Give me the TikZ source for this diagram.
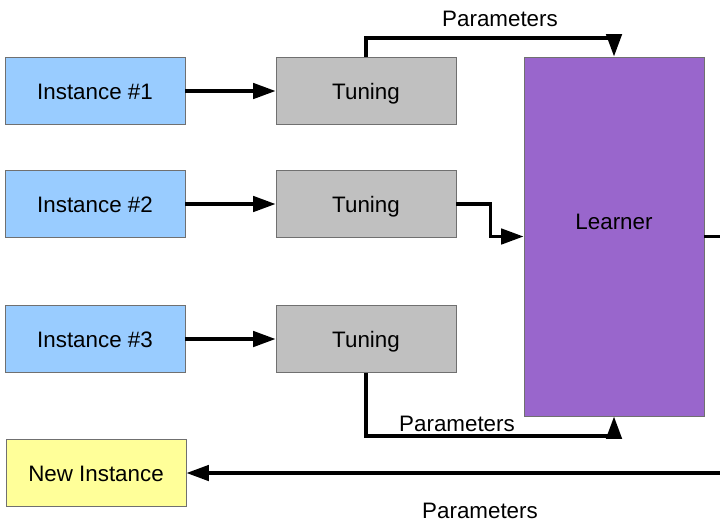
\documentclass[tikz,border=0pt]{standalone}
\usepackage{fontspec}
\setmainfont{Liberation Sans}
\usetikzlibrary{arrows.meta}
\definecolor{instblue}{HTML}{99CCFF}
\definecolor{tunegray}{HTML}{C0C0C0}
\definecolor{learnpurple}{HTML}{9966CC}
\definecolor{newyellow}{HTML}{FFFF99}
\definecolor{edgegray}{HTML}{707070}
\begin{document}
\begin{tikzpicture}[x=0.025cm, y=-0.025cm,
  every node/.style={font=\fontsize{15.9}{19}\selectfont,
    text height=11.4pt, text depth=0pt},
  box/.style={draw=edgegray, line width=0.6pt, inner sep=0pt,
    minimum width=4.5cm, minimum height=1.675cm},
  inst/.style={box, fill=instblue},
  tune/.style={box, fill=tunegray},
  arr/.style={line width=2.4pt, -{Triangle[length=16pt, width=11pt]}}]
\clip (0,0) rectangle (720,522);
\fill[white] (0,0) rectangle (720,522);

% input instances
\node[inst] (i1) at (95,91) {Instance \#1};
\node[inst] (i2) at (95,204) {Instance \#2};
\node[inst] (i3) at (95,339) {Instance \#3};

% tuning stages
\node[tune] (t1) at (366,91) {Tuning};
\node[tune] (t2) at (366,204) {Tuning};
\node[tune] (t3) at (366,339) {Tuning};

% learner (label sits above its middle) and the new instance
\node[box, fill=learnpurple, minimum height=8.975cm] (l) at (614,236.5) {};
\node (lt) at (614,221) {Learner};
\node[box, fill=newyellow] (ni) at (96,473) {New Instance};

% instance to tuning
\draw[arr] (i1) -- (t1);
\draw[arr] (i2) -- (t2);
\draw[arr] (i3) -- (t3);

% tuning to learner
\draw[arr] (t1.north) -- ++(0,-19) -| (l.north);
\draw[arr] (t2.east) -- ++(34,0) |- (l.west);
\draw[arr] (t3.south) -- ++(0,63) -| (l.south);

% learner back to the new instance
\draw[arr] (l.east) -- ++(60,0) |- (ni.east);

% labels
\node (p1) at (500,18) {Parameters};
\node (p2) at (457,423) {Parameters};
\node (p3) at (480,510.5) {Parameters};
\end{tikzpicture}
\end{document}
